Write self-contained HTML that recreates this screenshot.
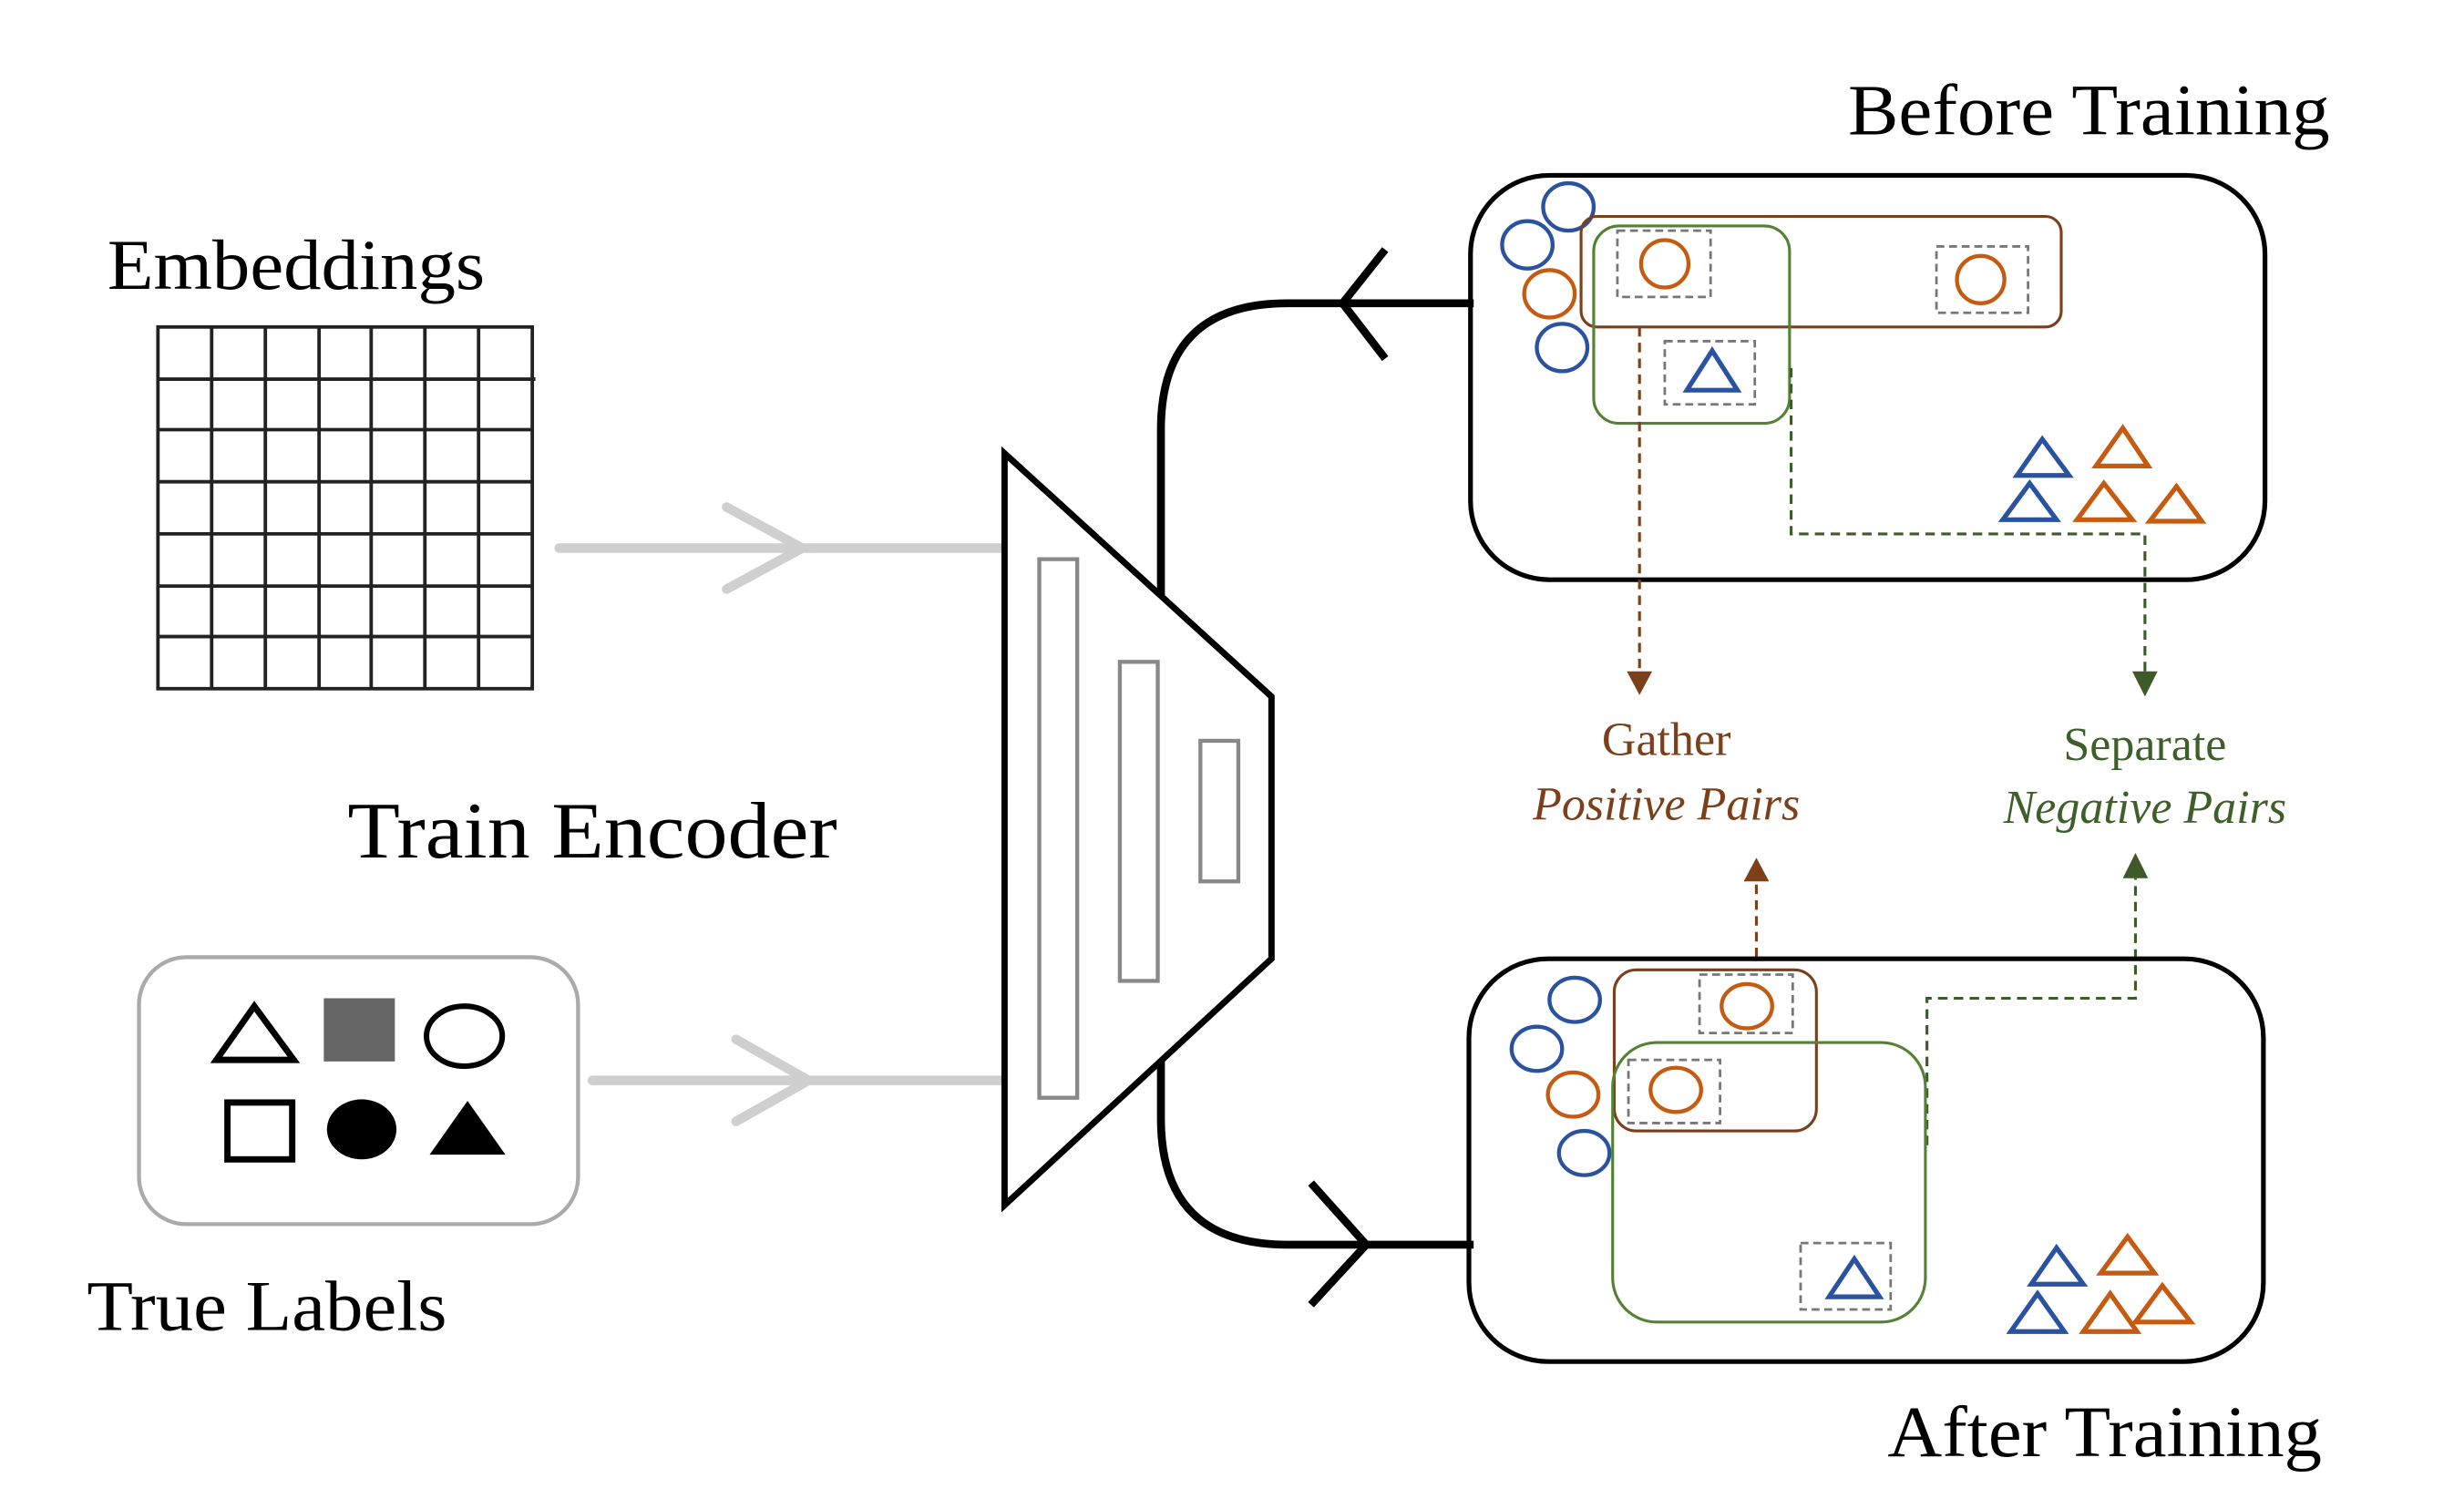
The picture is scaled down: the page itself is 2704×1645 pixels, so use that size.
<!DOCTYPE html>
<html><head><meta charset="utf-8"><style>
html,body{margin:0;padding:0;background:#fff;}
svg{display:block;}
text{font-family:"Liberation Serif",serif;}
</style></head><body>
<svg width="2704" height="1645" viewBox="0 0 1560 949" xmlns="http://www.w3.org/2000/svg">
<rect width="1560" height="949" fill="#fff"/>
<!-- Left texts -->
<text x="68" y="183" font-size="45" textLength="239" lengthAdjust="spacingAndGlyphs">Embeddings</text>
<text x="220" y="543" font-size="51" textLength="310" lengthAdjust="spacingAndGlyphs">Train Encoder</text>
<text x="55" y="842" font-size="45" textLength="228" lengthAdjust="spacingAndGlyphs">True Labels</text>
<!-- Grid -->
<g stroke="#222" stroke-width="2.2" fill="none">
<rect x="100" y="207" width="237" height="229"/>
<line x1="134" y1="207" x2="134" y2="436"/><line x1="168" y1="207" x2="168" y2="436"/>
<line x1="202" y1="207" x2="202" y2="436"/><line x1="235" y1="207" x2="235" y2="436"/>
<line x1="269" y1="207" x2="269" y2="436"/><line x1="303" y1="207" x2="303" y2="436"/>
<line x1="100" y1="240" x2="339" y2="240"/><line x1="100" y1="272" x2="337" y2="272"/>
<line x1="100" y1="305" x2="337" y2="305"/><line x1="100" y1="338" x2="337" y2="338"/>
<line x1="100" y1="371" x2="337" y2="371"/><line x1="100" y1="403" x2="337" y2="403"/>
</g>
<!-- gray arrows -->
<g stroke="#cfcfcf" stroke-width="6" fill="none" stroke-linecap="round">
<line x1="354" y1="347" x2="640" y2="347"/>
<polyline points="460,321 508,347 460,373"/>
<line x1="375" y1="684" x2="640" y2="684"/>
<polyline points="466,658 512,684 466,710"/>
</g>
<!-- labels box -->
<rect x="88" y="606" width="278" height="169" rx="30" fill="none" stroke="#aaa" stroke-width="2.5"/>
<polygon points="137,671 186,671 161,637" fill="none" stroke="#000" stroke-width="4"/>
<rect x="205" y="632" width="45" height="40" fill="#666"/>
<ellipse cx="294" cy="656" rx="24" ry="19" fill="none" stroke="#000" stroke-width="3.5"/>
<rect x="144" y="698" width="41" height="36" fill="none" stroke="#000" stroke-width="4"/>
<ellipse cx="229" cy="715" rx="22" ry="19" fill="#000"/>
<polygon points="272,731 320,731 296,697" fill="#000"/>
<!-- curves -->
<g stroke="#000" stroke-width="5" fill="none">
<path d="M735,380 V272 Q735,192 815,192 H933"/>
<polyline points="877,158 850,192 877,227"/>
<path d="M735,670 V708 Q735,788 815,788 H933"/>
<polyline points="830,749 865,788 830,826"/>
</g>
<!-- encoder -->
<polygon points="636,287 805,441 805,607 636,763" fill="#fff" stroke="#000" stroke-width="4"/>
<g fill="none" stroke="#888" stroke-width="2.5">
<rect x="658" y="354" width="24" height="341"/>
<rect x="709" y="419" width="24" height="202"/>
<rect x="760" y="469" width="24" height="89"/>
</g>
<!-- Before Training -->
<text x="1170" y="85" font-size="46" textLength="305" lengthAdjust="spacingAndGlyphs">Before Training</text>
<rect x="931" y="111" width="503" height="256" rx="50" fill="none" stroke="#000" stroke-width="3"/>
<g fill="none" stroke-width="2.5">
<ellipse cx="993" cy="131" rx="16" ry="15" stroke="#2a52a0"/>
<ellipse cx="967" cy="155" rx="16" ry="15" stroke="#2a52a0"/>
<ellipse cx="981" cy="186" rx="16" ry="15" stroke="#c55a11"/>
<ellipse cx="989" cy="220" rx="16" ry="15" stroke="#2a52a0"/>
<rect x="1001" y="137" width="304" height="70" rx="10" stroke="#7b3f1a" stroke-width="1.8"/>
<rect x="1009" y="143" width="124" height="125" rx="16" stroke="#548235" stroke-width="1.8"/>
<rect x="1024" y="146" width="59" height="42" stroke="#777" stroke-width="1.6" stroke-dasharray="5,3"/>
<ellipse cx="1054" cy="167" rx="15" ry="15" stroke="#c55a11"/>
<rect x="1226" y="156" width="58" height="42" stroke="#777" stroke-width="1.6" stroke-dasharray="5,3"/>
<ellipse cx="1254" cy="177" rx="15" ry="15" stroke="#c55a11"/>
<rect x="1054" y="216" width="57" height="40" stroke="#777" stroke-width="1.6" stroke-dasharray="5,3"/>
<polygon points="1068,247 1100,247 1084,222" stroke="#2a52a0" stroke-width="3"/>
<polygon points="1277,301 1310,301 1293,278" stroke="#2a52a0" stroke-width="3"/>
<polygon points="1268,329 1302,329 1285,306" stroke="#2a52a0" stroke-width="3"/>
<polygon points="1327,295 1360,295 1344,271" stroke="#c55a11" stroke-width="3"/>
<polygon points="1315,329 1350,329 1332,306" stroke="#c55a11" stroke-width="3"/>
<polygon points="1361,330 1394,330 1378,308" stroke="#c55a11" stroke-width="3"/>
</g>
<!-- dashed connectors -->
<g fill="none" stroke-width="1.8" stroke-dasharray="6,4">
<polyline points="1038,207 1038,426" stroke="#7b3f1a"/>
<polyline points="1134,233 1134,338 1358,338 1358,426" stroke="#3d5a28"/>
<polyline points="1112,606 1112,558" stroke="#7b3f1a"/>
<polyline points="1220,725 1220,632 1352,632 1352,556" stroke="#3d5a28"/>
</g>
<polygon points="1030,425 1046,425 1038,440" fill="#7b3f1a"/>
<polygon points="1350,425 1366,425 1358,441" fill="#3d5a28"/>
<polygon points="1104,558 1120,558 1112,543" fill="#7b3f1a"/>
<polygon points="1344,556 1360,556 1352,540" fill="#3d5a28"/>
<text x="1055" y="478" font-size="30" fill="#7b3f1a" text-anchor="middle">Gather</text>
<text x="1055" y="519" font-size="30" fill="#7b3f1a" text-anchor="middle" font-style="italic">Positive Pairs</text>
<text x="1358" y="481" font-size="30" fill="#3f5f2a" text-anchor="middle">Separate</text>
<text x="1358" y="521" font-size="30" fill="#3f5f2a" text-anchor="middle" font-style="italic">Negative Pairs</text>
<!-- After Training -->
<rect x="930" y="607" width="503" height="255" rx="50" fill="none" stroke="#000" stroke-width="3"/>
<g fill="none" stroke-width="2.5">
<ellipse cx="997" cy="633" rx="16" ry="14" stroke="#2a52a0"/>
<ellipse cx="973" cy="664" rx="16" ry="14" stroke="#2a52a0"/>
<ellipse cx="996" cy="693" rx="16" ry="14" stroke="#c55a11"/>
<ellipse cx="1003" cy="730" rx="16" ry="14" stroke="#2a52a0"/>
<rect x="1022" y="614" width="128" height="102" rx="14" stroke="#7b3f1a" stroke-width="1.8"/>
<rect x="1021" y="660" width="198" height="177" rx="28" stroke="#548235" stroke-width="1.8"/>
<rect x="1076" y="617" width="59" height="37" stroke="#777" stroke-width="1.6" stroke-dasharray="5,3"/>
<ellipse cx="1106" cy="637" rx="16" ry="14" stroke="#c55a11"/>
<rect x="1031" y="671" width="58" height="40" stroke="#777" stroke-width="1.6" stroke-dasharray="5,3"/>
<ellipse cx="1061" cy="690" rx="16" ry="14" stroke="#c55a11"/>
<rect x="1140" y="787" width="57" height="42" stroke="#777" stroke-width="1.6" stroke-dasharray="5,3"/>
<polygon points="1158,821 1190,821 1174,797" stroke="#2a52a0" stroke-width="3"/>
<polygon points="1286,813 1319,813 1302,790" stroke="#2a52a0" stroke-width="3"/>
<polygon points="1273,843 1307,843 1290,819" stroke="#2a52a0" stroke-width="3"/>
<polygon points="1330,806 1364,806 1347,783" stroke="#c55a11" stroke-width="3"/>
<polygon points="1319,843 1353,843 1336,819" stroke="#c55a11" stroke-width="3"/>
<polygon points="1352,837 1387,837 1369,814" stroke="#c55a11" stroke-width="3"/>
</g>
<text x="1195" y="922" font-size="46" textLength="275" lengthAdjust="spacingAndGlyphs">After Training</text>
</svg>
</body></html>
